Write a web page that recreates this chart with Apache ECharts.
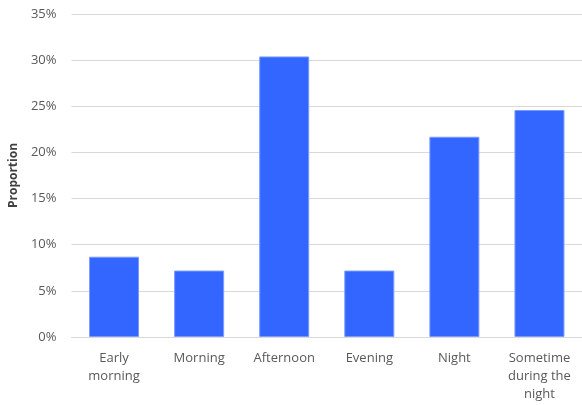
<!DOCTYPE html>
<html><head><meta charset="utf-8">
<script src="https://cdn.jsdelivr.net/npm/echarts@6/dist/echarts.min.js"></script>
<style>html,body{margin:0;padding:0;background:#fff}#c{width:582px;height:405px}</style>
</head><body><div id="c"></div>
<script>
var categories = ["Early\nmorning", "Morning", "Afternoon", "Evening", "Night", "Sometime\nduring the\nnight"];
var values = [0.087, 0.072, 0.304, 0.072, 0.217, 0.246];
var yTicks = [0, 0.05, 0.10, 0.15, 0.20, 0.25, 0.30, 0.35];
var yTitle = "Proportion";

var chart = echarts.init(document.getElementById('c'), null, {renderer: 'canvas'});
var font = "'Open Sans', 'Noto Sans', sans-serif";
chart.setOption({
  animation: false,
  grid: {left: 68, top: 14, width: 518, bottom: 68, containLabel: false},
  xAxis: {
    type: 'category',
    data: categories,
    axisLine: {show: true, lineStyle: {color: '#d9d9d9', width: 1}},
    axisTick: {show: false},
    axisLabel: {color: '#595959', fontSize: 13, fontFamily: font, lineHeight: 18, margin: 12, interval: 0}
  },
  yAxis: {
    type: 'value',
    min: yTicks[0],
    max: yTicks[yTicks.length - 1],
    interval: 0.05,
    name: yTitle,
    nameLocation: 'middle',
    nameGap: 50,
    nameTextStyle: {color: '#404040', fontSize: 12, fontWeight: 'bold', fontFamily: font},
    axisLine: {show: false},
    axisTick: {show: false},
    splitLine: {lineStyle: {color: '#d9d9d9', width: 1}},
    axisLabel: {color: '#595959', fontSize: 13, fontFamily: font, margin: 15,
      formatter: function (v) { return Math.round(v * 100) + '%'; }}
  },
  series: [{
    type: 'bar',
    data: values,
    barWidth: 50,
    itemStyle: {color: '#3366ff', borderColor: '#7a9bff', borderWidth: 1}
  }]
});
</script></body></html>
